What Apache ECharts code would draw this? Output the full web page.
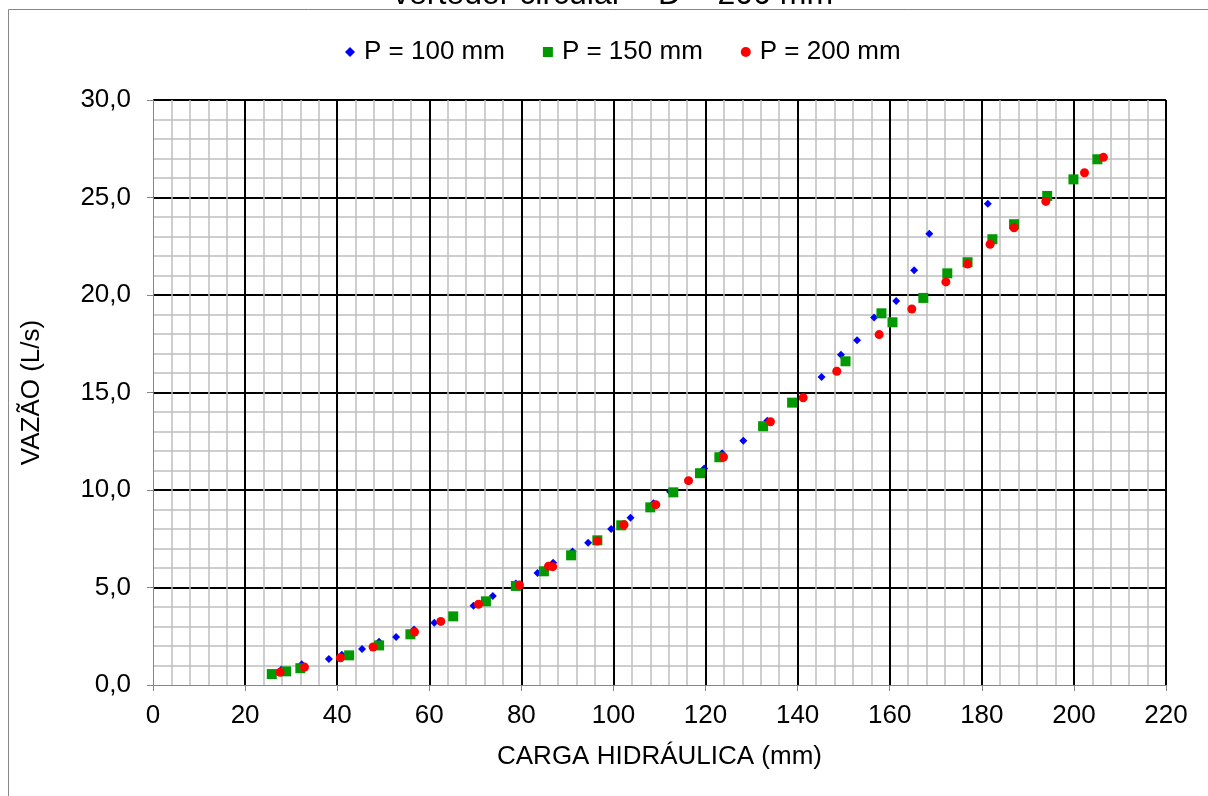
<!DOCTYPE html>
<html>
<head>
<meta charset="utf-8">
<script src="https://cdn.jsdelivr.net/npm/echarts@6/dist/echarts.min.js"></script>
<style>
  html, body { margin: 0; padding: 0; background: #fff; }
  #chart { width: 1208px; height: 796px; }
</style>
</head>
<body>
<div id="chart"></div>
<script>
// dados: [carga (mm), vazão (L/s)]
const p100 = [
  [27.9, 0.80], [32.3, 1.06], [38.2, 1.33], [41.0, 1.55], [45.4, 1.85], [49.1, 2.22],
  [52.8, 2.46], [56.7, 2.84], [61.1, 3.19], [69.6, 4.07], [73.8, 4.56], [78.8, 5.21],
  [83.5, 5.74], [86.9, 6.27], [91.1, 6.84], [94.5, 7.30], [99.5, 8.00], [103.7, 8.58],
  [108.7, 9.32], [112.3, 9.91], [119.7, 11.10], [123.6, 11.88], [128.2, 12.53], [133.4, 13.55],
  [145.2, 15.79], [149.4, 16.94], [152.9, 17.68], [156.6, 18.84], [161.4, 19.69], [165.3, 21.27],
  [168.6, 23.14], [181.3, 24.68]
];
const p150 = [
  [25.8, 0.56], [28.9, 0.70], [32.0, 0.86], [42.6, 1.52], [49.1, 2.03], [55.9, 2.60],
  [65.2, 3.52], [72.3, 4.29], [78.8, 5.08], [84.9, 5.83], [90.8, 6.65], [96.5, 7.42],
  [101.7, 8.19], [108.0, 9.11], [113.0, 9.88], [118.8, 10.86], [123.0, 11.68], [132.5, 13.27],
  [138.8, 14.48], [150.4, 16.60], [158.2, 19.06], [160.6, 18.60], [167.3, 19.85], [172.5, 21.11],
  [176.9, 21.68], [182.3, 22.86], [187.0, 23.63], [194.2, 25.08], [199.9, 25.93], [205.1, 26.96]
];
const p200 = [
  [27.6, 0.65], [32.9, 0.92], [40.7, 1.40], [47.8, 1.95], [56.8, 2.72], [62.5, 3.26],
  [70.7, 4.14], [79.6, 5.13], [85.9, 6.09], [86.8, 6.07], [96.5, 7.38], [102.3, 8.22],
  [109.2, 9.25], [116.3, 10.48], [123.9, 11.69], [134.1, 13.50], [141.2, 14.73], [148.5, 16.09],
  [157.7, 17.97], [164.8, 19.28], [172.2, 20.67], [176.9, 21.59], [181.8, 22.60], [187.0, 23.45],
  [193.9, 24.80], [202.3, 26.27], [206.4, 27.06]
];
const seriesNames = ["P = 100 mm", "P = 150 mm", "P = 200 mm"];

let myChart = echarts.init(document.getElementById("chart"));
const font = "Liberation Sans, Arial, sans-serif";
const fs = 26;

let option = {
  animation: false,
  backgroundColor: "#fff",
  textStyle: { fontFamily: font },
  graphic: [
    {
      // moldura externa do gráfico
      type: "rect",
      shape: { x: 8.5, y: 9.5, width: 1400, height: 1000 },
      style: { fill: null, stroke: "#868686", lineWidth: 1 },
      silent: true
    },
    {
      // título cortado no topo
      type: "text",
      left: 393,
      top: -21,
      style: { text: "vertedor circular – D = 200 mm", fontSize: 32, fontFamily: font, fill: "#000" },
      silent: true
    }
  ],
  legend: {
    top: 34,
    left: 340,
    itemGap: 38,
    itemWidth: 10,
    itemHeight: 10,
    textStyle: { fontSize: fs, color: "#000", fontFamily: font, padding: [0, 0, 0, 4] },
    data: [
      { name: seriesNames[0], icon: "diamond" },
      { name: seriesNames[1], icon: "rect" },
      { name: seriesNames[2], icon: "circle" }
    ]
  },
  grid: { left: 153, right: 42, top: 100, bottom: 111 },
  xAxis: {
    type: "value",
    min: 0,
    max: 220,
    interval: 20,
    name: "CARGA HIDRÁULICA (mm)",
    nameLocation: "middle",
    nameGap: 59,
    nameTextStyle: { fontSize: fs, color: "#000", fontFamily: font },
    axisLine: { show: true, lineStyle: { color: "#868686", width: 1 } },
    axisTick: { show: true, inside: false, length: 6, lineStyle: { color: "#868686" } },
    axisLabel: { fontSize: fs, color: "#000", margin: 18 },
    splitLine: { show: true, showMinLine: false, lineStyle: { color: "#000", width: 2 } },
    minorTick: { show: false, splitNumber: 5 },
    minorSplitLine: { show: true, lineStyle: { color: "#bfbfbf", width: 1.5 } }
  },
  yAxis: {
    type: "value",
    min: 0,
    max: 30,
    interval: 5,
    name: "VAZÃO (L/s)",
    nameLocation: "middle",
    nameGap: 108,
    nameTextStyle: { fontSize: fs, color: "#000", fontFamily: font },
    axisLine: { show: true, lineStyle: { color: "#868686", width: 1 } },
    axisTick: { show: true, inside: false, length: 6, lineStyle: { color: "#868686" } },
    axisLabel: {
      fontSize: fs,
      color: "#000",
      margin: 22,
      formatter: function (v) {
        return v.toFixed(1).replace(".", ",");
      }
    },
    splitLine: { show: true, showMinLine: false, lineStyle: { color: "#000", width: 2 } },
    minorTick: { show: false, splitNumber: 5 },
    minorSplitLine: { show: true, lineStyle: { color: "#bfbfbf", width: 1.5 } }
  },
  series: [
    {
      name: seriesNames[0],
      type: "scatter",
      symbol: "diamond",
      symbolSize: 8,
      itemStyle: { color: "#0000ff", opacity: 1 },
      data: p100
    },
    {
      name: seriesNames[1],
      type: "scatter",
      symbol: "rect",
      symbolSize: 10,
      itemStyle: { color: "#009900", opacity: 1 },
      data: p150
    },
    {
      name: seriesNames[2],
      type: "scatter",
      symbol: "circle",
      symbolSize: 9,
      itemStyle: { color: "#ff0000", opacity: 1 },
      data: p200
    }
  ]
};

myChart.setOption(option);
window.addEventListener("resize", () => { myChart.resize(); }, true);
</script>
</body>
</html>
